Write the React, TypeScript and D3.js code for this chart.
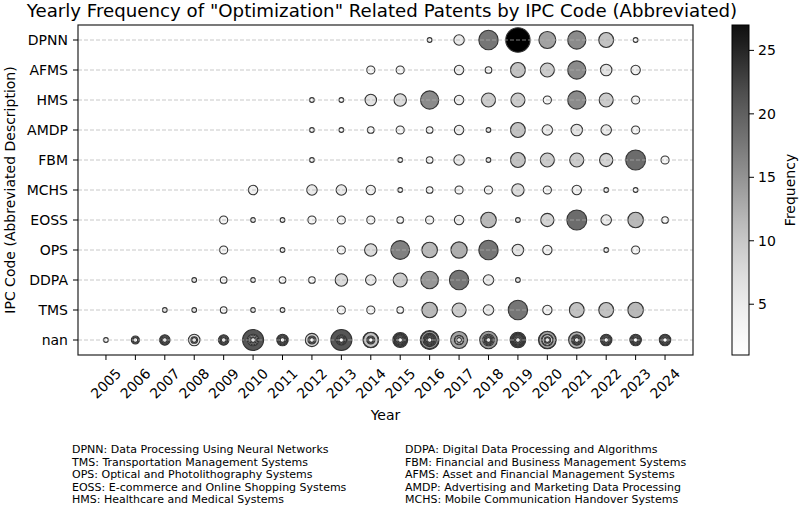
import React from "react";
import * as d3 from "d3";

const years = [2005, 2006, 2007, 2008, 2009, 2010, 2011, 2012, 2013, 2014, 2015, 2016, 2017, 2018, 2019, 2020, 2021, 2022, 2023, 2024];
const codes = ["DPNN", "AFMS", "HMS", "AMDP", "FBM", "MCHS", "EOSS", "OPS", "DDPA", "TMS", "nan"];

const n = null;
// values aligned with `years`
const dpnn = [n, n, n, n, n, n, n, n, n, n, n, 1, 5, 17, 27, 13, 15, 10, 1, n];
const afms = [n, n, n, n, n, n, n, n, n, 3, 3, n, 4, 2, 10, 9, 15, 6, 4, n];
const hms = [n, n, n, n, n, n, n, 1, 1, 6, 7, 15, 4, 9, 9, 3, 15, 9, 3, n];
const amdp = [n, n, n, n, n, n, n, 1, 1, 2, 3, 2, 4, 1, 10, 5, 6, 5, 3, n];
const fbm = [n, n, n, n, n, n, n, 1, n, n, 1, 2, 5, 1, 10, 9, 9, 8, 18, 3];
const mchs = [n, n, n, n, n, 4, n, 5, 5, 4, 1, 2, 3, 3, 7, 3, 4, 1, 1, n];
const eoss = [n, n, n, n, 3, 1, 1, 3, 3, 3, 2, 3, 4, 11, 1, 8, 18, 5, 11, 2];
const ops = [n, n, n, n, 3, n, 1, n, 3, 7, 16, 11, 12, 17, 6, 4, n, 1, 3, n];
const ddpa = [n, n, n, 1, 2, 1, 2, 2, 7, 5, 9, 14, 17, 5, 1, n, n, n, n, n];
const tms = [n, n, 1, 1, 2, 1, 1, n, 3, 3, 2, 11, 9, 5, 17, 4, 10, 10, 11, n];
// "nan" code: several entries per year
const nanValues = [
  [1],
  [1, 2, 3],
  [1, 2, 3, 4, 5],
  [1, 2, 6],
  [1, 2, 3, 4, 5],
  [1, 2, 4, 6, 20],
  [1, 2, 3, 4, 5, 6],
  [1, 2, 3, 8],
  [1, 2, 3, 4, 5, 20],
  [1, 2, 3, 10, 11],
  [1, 2, 3, 4, 5, 6, 7, 8, 10],
  [1, 2, 3, 4, 5, 6, 8, 14, 16],
  [1, 3, 4, 13],
  [1, 2, 3, 4, 6, 14],
  [1, 2, 3, 4, 5, 6, 7, 8, 9, 11],
  [1, 2, 5, 6, 13, 14],
  [1, 2, 3, 4, 5, 12],
  [1, 2, 3, 4, 5, 6],
  [1, 2, 3, 4, 5, 6],
  [1, 2, 3, 4, 5, 6],
];
const seriesByCode: Record<string, (number | null)[]> = {
  DPNN: dpnn, AFMS: afms, HMS: hms, AMDP: amdp, FBM: fbm,
  MCHS: mchs, EOSS: eoss, OPS: ops, DDPA: ddpa, TMS: tms,
};
const colorTicks = [5, 10, 15, 20, 25];
const legendLeft = [
  "DPNN: Data Processing Using Neural Networks",
  "TMS: Transportation Management Systems",
  "OPS: Optical and Photolithography Systems",
  "EOSS: E-commerce and Online Shopping Systems",
  "HMS: Healthcare and Medical Systems",
];
const legendRight = [
  "DDPA: Digital Data Processing and Algorithms",
  "FBM: Financial and Business Management Systems",
  "AFMS: Asset and Financial Management Systems",
  "AMDP: Advertising and Marketing Data Processing",
  "MCHS: Mobile Communication Handover Systems",
];

const W = 800, H = 507;
const L = 78, R = 693, T = 25, B = 355;
const FONT = "DejaVu Sans, sans-serif";

export default function App() {
  const x = d3.scaleLinear().domain([years[0] - 0.95, years[years.length - 1] + 0.95]).range([L, R]);
  const y = d3.scalePoint().domain(codes).range([T + 15, B - 15]);
  const vmin = 1, vmax = 27;
  const color = d3.scaleSequential(d3.interpolateGreys).domain([vmin, vmax]);
  const rScale = d3.scaleSqrt().domain([0, 27]).range([0, 2.35 * Math.sqrt(27)]);
  const cbX0 = 732, cbX1 = 749;
  const cy = d3.scaleLinear().domain([vmin, vmax]).range([B, T]);

  type Pt = { key: string; cx: number; cy: number; v: number };
  const pts: Pt[] = [];
  codes.forEach((c) => {
    if (c === "nan") {
      nanValues.forEach((arr, i) => {
        [...arr].sort((a, b) => b - a).forEach((v, j) => {
          pts.push({ key: `nan-${i}-${j}`, cx: x(years[i]), cy: y(c)!, v });
        });
      });
    } else {
      seriesByCode[c].forEach((v, i) => {
        if (v != null) pts.push({ key: `${c}-${i}`, cx: x(years[i]), cy: y(c)!, v });
      });
    }
  });

  const stops = d3.range(0, 1.0001, 0.05);

  return (
    <svg width={W} height={H} style={{ position: "absolute", left: 0, top: 0, background: "#fff" }} fontFamily={FONT}>
      <defs>
        <linearGradient id="cb" x1="0" y1="1" x2="0" y2="0">
          {stops.map((t) => (
            <stop key={t} offset={t} stopColor={d3.interpolateGreys(t * 0.95)} />
          ))}
        </linearGradient>
      </defs>
      <rect x={0} y={0} width={W} height={H} fill="#fff" />
      <text x={382} y={17} textAnchor="middle" fontSize={18.2} fill="#000">
        Yearly Frequency of "Optimization" Related Patents by IPC Code (Abbreviated)
      </text>

      {/* points */}
      {pts.map((p) => (
        <circle key={p.key} cx={p.cx} cy={p.cy} r={rScale(p.v)} fill={color(p.v)} stroke="#333" strokeWidth={1.1} />
      ))}

      {/* grid on top */}
      {codes.map((c) => (
        <line key={c} x1={L} x2={R} y1={y(c)} y2={y(c)} stroke="#b0b0b0" strokeOpacity={0.7} strokeWidth={1} strokeDasharray="4,2" />
      ))}

      {/* frame */}
      <rect x={L} y={T} width={R - L} height={B - T} fill="none" stroke="#222" strokeWidth={1.2} />

      {/* y axis */}
      {codes.map((c) => (
        <g key={c}>
          <line x1={L - 5} x2={L} y1={y(c)} y2={y(c)} stroke="#000" />
          <text x={L - 10} y={y(c)} dy="0.35em" textAnchor="end" fontSize={14}>{c}</text>
        </g>
      ))}
      <text transform={`translate(15,${(T + B) / 2}) rotate(-90)`} textAnchor="middle" fontSize={14}>
        IPC Code (Abbreviated Description)
      </text>

      {/* x axis */}
      {years.map((yr) => (
        <g key={yr}>
          <line x1={x(yr)} x2={x(yr)} y1={B} y2={B + 5} stroke="#000" />
          <text transform={`translate(${x(yr)},${383.5}) rotate(-45)`} textAnchor="middle" dy="0.35em" fontSize={14}>{yr}</text>
        </g>
      ))}
      <text x={(L + R) / 2} y={420} textAnchor="middle" fontSize={14}>Year</text>

      {/* colorbar */}
      <rect x={cbX0} y={T} width={cbX1 - cbX0} height={B - T} fill="url(#cb)" stroke="#000" strokeWidth={1} />
      {colorTicks.map((t) => (
        <g key={t}>
          <line x1={cbX1} x2={cbX1 + 5} y1={cy(t)} y2={cy(t)} stroke="#000" />
          <text x={cbX1 + 9} y={cy(t)} dy="0.35em" fontSize={14}>{t}</text>
        </g>
      ))}
      <text transform={`translate(795,${(T + B) / 2}) rotate(-90)`} textAnchor="middle" fontSize={14}>Frequency</text>

      {/* legend text */}
      {legendLeft.map((s, i) => (
        <text key={s} x={72} y={453 + i * 12.6} fontSize={11}>{s}</text>
      ))}
      {legendRight.map((s, i) => (
        <text key={s} x={405} y={453 + i * 12.6} fontSize={11}>{s}</text>
      ))}
    </svg>
  );
}
